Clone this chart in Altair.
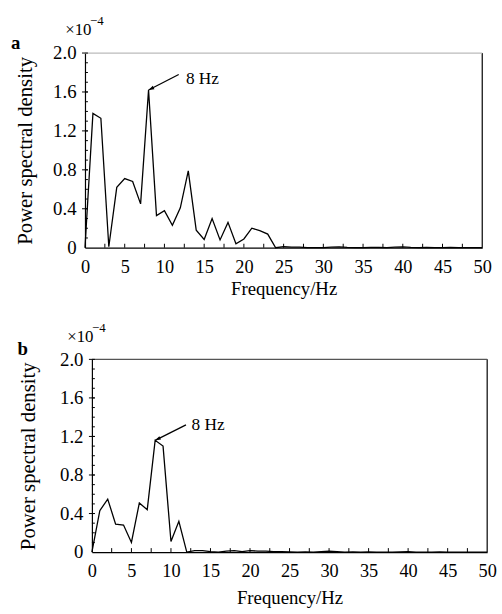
import altair as alt
import pandas as pd

FONT = "Liberation Serif"

freq = list(range(0, 51))
psd_a = [0.0, 1.38, 1.33, 0.01, 0.62, 0.71, 0.68, 0.45, 1.62, 0.33,
         0.38, 0.23, 0.41, 0.79, 0.18, 0.085, 0.30, 0.08, 0.26, 0.04,
         0.09, 0.20, 0.175, 0.14, 0.0, 0.01, 0.005, 0.005, 0.0, 0.0,
         0.0, 0.005, 0.008, 0.003, 0.0, 0.0, 0.003, 0.003, 0.0, 0.005,
         0.008, 0.003, 0.0, 0.003, 0.0, 0.0, 0.003, 0.0, 0.0, 0.0, 0.0]
psd_b = [0.0, 0.43, 0.55, 0.29, 0.28, 0.10, 0.51, 0.44, 1.16, 1.10,
         0.11, 0.32, 0.0, 0.015, 0.015, 0.005, 0.0, 0.01, 0.015, 0.005,
         0.015, 0.01, 0.01, 0.005, 0.005, 0.003, 0.0, 0.003, 0.0, 0.005,
         0.01, 0.005, 0.0, 0.003, 0.0, 0.003, 0.0, 0.0, 0.0, 0.003,
         0.005, 0.0, 0.0, 0.0, 0.003, 0.0, 0.0, 0.0, 0.0, 0.0, 0.0]

x_ticks = [0, 5, 10, 15, 20, 25, 30, 35, 40, 45, 50]
y_ticks = [0, 0.4, 0.8, 1.2, 1.6, 2.0]
x_minor = [i * 2.5 for i in range(1, 20)]
y_minor = [round(i * 0.1, 1) for i in range(1, 20)]

# annotation: (peak freq, peak value, arrow tail freq, tail value)
arrow_a = (8, 1.62, 11.8, 1.78)
arrow_b = (8, 1.16, 11.9, 1.32)
label_a = (12.7, 1.73)
label_b = (12.6, 1.32)


def panel(psd, letter, arrow, label, pw, ph, shift, top_color, exp_dx, xtp, ytp):
    W = pw + shift
    xs = alt.Scale(domain=[0, 50], range=[shift, shift + pw], nice=False, zero=False)
    ys = alt.Scale(domain=[0, 2], nice=False, zero=False)
    xa = alt.Axis(values=x_ticks, title="Frequency/Hz", titlePadding=xtp,
                  labelFontSize=18.5, titleFontSize=19, labelFont=FONT, titleFont=FONT,
                  ticks=False, grid=False, domainColor="black", domainWidth=1.2,
                  labelColor="black", labelPadding=10, labelOverlap=False,
                  labelFlush=False, titleFontWeight="normal", titleColor="black")
    ya = alt.Axis(values=y_ticks, title="Power spectral density", offset=-shift,
                  labelExpr="datum.value == 0 ? '0' : format(datum.value, '.1f')",
                  labelFontSize=19, titleFontSize=21, titlePadding=ytp,
                  labelFont=FONT, titleFont=FONT,
                  ticks=False, grid=False, domainColor="black", domainWidth=1.2,
                  labelColor="black", labelPadding=9, labelOverlap=False,
                  titleFontWeight="normal", titleColor="black")
    df = pd.DataFrame({"f": freq, "p": psd})

    line = alt.Chart(df).mark_line(color="black", strokeWidth=1.3).encode(
        x=alt.X("f:Q", scale=xs, axis=xa),
        y=alt.Y("p:Q", scale=ys, axis=ya),
    )

    fr = pd.DataFrame({"x0": [0], "x1": [50], "y0": [0], "y1": [2]})
    right = alt.Chart(fr).mark_rule(color="black", strokeWidth=1.2).encode(
        x=alt.X("x1:Q", scale=xs, axis=xa), y=alt.Y("y0:Q", scale=ys, axis=ya), y2="y1:Q")
    top = alt.Chart(fr).mark_rule(color=top_color, strokeWidth=1.2).encode(
        x=alt.X("x0:Q", scale=xs, axis=xa), x2="x1:Q", y=alt.Y("y1:Q", scale=ys, axis=ya))

    xt = alt.Chart(pd.DataFrame({"v": x_minor})).mark_rule(color="black").encode(
        x=alt.X("v:Q", scale=xs, axis=xa), y=alt.value(ph), y2=alt.value(ph - 4))
    ytm = alt.Chart(pd.DataFrame({"v": y_minor})).mark_rule(color="black").encode(
        y=alt.Y("v:Q", scale=ys, axis=ya), x=alt.value(shift), x2=alt.value(shift + 3))
    ytM = alt.Chart(pd.DataFrame({"v": y_ticks[1:]})).mark_rule(color="black").encode(
        y=alt.Y("v:Q", scale=ys, axis=ya), x=alt.value(shift - 3), x2=alt.value(shift + 3))

    arr = pd.DataFrame({"x": [arrow[2]], "y": [arrow[3]], "x2": [arrow[0]], "y2": [arrow[1]]})
    shaft = alt.Chart(arr).mark_rule(color="black", strokeWidth=1.3).encode(
        x=alt.X("x:Q", scale=xs, axis=xa), y=alt.Y("y:Q", scale=ys, axis=ya),
        x2="x2:Q", y2="y2:Q")
    head = alt.Chart(arr).mark_point(
        shape="M0,0L-0.4,1.2L0.4,1.2Z", filled=True, color="black", opacity=1,
        size=90, angle=244).encode(
        x=alt.X("x2:Q", scale=xs, axis=xa), y=alt.Y("y2:Q", scale=ys, axis=ya))
    txt = alt.Chart(pd.DataFrame({"x": [label[0]], "y": [label[1]]})).mark_text(
        text="8 Hz", font=FONT, fontSize=17.5, align="left", baseline="middle",
        color="black").encode(x=alt.X("x:Q", scale=xs, axis=xa),
                              y=alt.Y("y:Q", scale=ys, axis=ya))

    base = alt.Chart(pd.DataFrame({"a": [0]}))
    times = base.mark_text(text="×10", font=FONT, fontSize=17, align="left",
                           baseline="middle", color="black").encode(
        x=alt.value(shift + exp_dx), y=alt.value(-23))
    expo = base.mark_text(text="−4", font=FONT, fontSize=13, align="left",
                          baseline="middle", color="black").encode(
        x=alt.value(shift + exp_dx + 25), y=alt.value(-32))
    let = base.mark_text(text=letter, font=FONT, fontSize=19, fontWeight="bold",
                         align="center", baseline="middle", color="black").encode(
        x=alt.value(shift - 70), y=alt.value(-10))

    return alt.layer(line, right, top, xt, ytm, ytM, shaft, head, txt, times, expo, let
                     ).properties(width=W, height=ph)


pa = panel(psd_a, "a", arrow_a, label_a, 402, 197, 0, "#bbbbbb", -20, 4, 17)
pb = panel(psd_b, "b", arrow_b, label_b, 400, 195, 7, "#555555", -25, 9, 21)

chart = alt.vconcat(pa, pb, spacing=113, bounds="flush").properties(
    padding={"left": 11, "top": 12, "right": 5, "bottom": 2}
).configure(background="white", font=FONT).configure_view(stroke=None).configure_axis(
    labelFont=FONT, titleFont=FONT, labelOverlap=False
)

chart.save("out.html", embed_options={"renderer": "svg", "actions": False})
